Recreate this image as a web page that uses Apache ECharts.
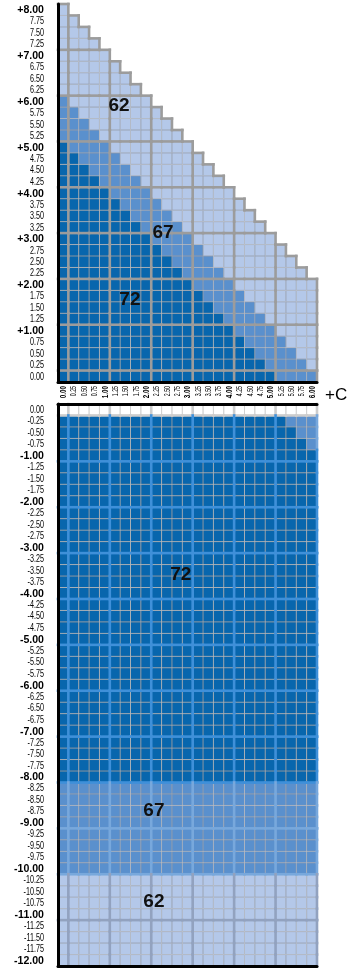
<!DOCTYPE html>
<html>
<head>
<meta charset="utf-8">
<script src="https://cdn.jsdelivr.net/npm/echarts@6/dist/echarts.min.js"></script>
<style>
  html, body { margin: 0; padding: 0; background: #fff; }
  #chart { width: 352px; height: 968px; }
</style>
</head>
<body>
<div id="chart"></div>
<script>
// Cylinder columns (+C), shared by both panels
const cylinderLabels = ['0.00','0.25','0.50','0.75','1.00','1.25','1.50','1.75','2.00','2.25','2.50','2.75',
  '3.00','3.25','3.50','3.75','4.00','4.25','4.50','4.75','5.00','5.25','5.50','5.75','6.00'];

// Plus sphere rows, bottom to top
const plusSphereLabels = ['0.00','0.25','0.50','0.75','+1.00','1.25','1.50','1.75','+2.00','2.25','2.50','2.75',
  '+3.00','3.25','3.50','3.75','+4.00','4.25','4.50','4.75','+5.00','5.25','5.50','5.75','+6.00','6.25','6.50',
  '6.75','+7.00','7.25','7.50','7.75','+8.00'];

// Minus sphere rows, top to bottom
const minusSphereLabels = ['0.00','-0.25','-0.50','-0.75','-1.00','-1.25','-1.50','-1.75','-2.00','-2.25','-2.50',
  '-2.75','-3.00','-3.25','-3.50','-3.75','-4.00','-4.25','-4.50','-4.75','-5.00','-5.25','-5.50','-5.75','-6.00',
  '-6.25','-6.50','-6.75','-7.00','-7.25','-7.50','-7.75','-8.00','-8.25','-8.50','-8.75','-9.00','-9.25','-9.50',
  '-9.75','-10.00','-10.25','-10.50','-10.75','-11.00','-11.25','-11.50','-11.75','-12.00'];

// Cells per plus row (0.00 .. +8.00), left to right: index 72, then 67, then 62
const plus72 = [21,20,19,18,17,16,15,14,13,12,11,10,9,8,7,6,5,4,3,2,1,0,0,0,0,0,0,0,0,0,0,0,0];
const plus67 = [4,4,4,4,4,4,4,4,4,4,4,4,4,4,4,4,4,4,4,4,4,4,3,2,1,0,0,0,0,0,0,0,0];
const plus62 = [0,1,2,3,4,5,6,7,8,8,8,8,8,8,8,8,8,8,8,8,8,8,8,8,8,8,7,6,5,4,3,2,1];

// Cells per minus row (0.00 .. -12.00), left to right: open cells, 72, 67, 62
const minusOpen = [25,0,0,0,0,0,0,0,0,0,0,0,0,0,0,0,0,0,0,0,0,0,0,0,0,0,0,0,0,0,0,0,0,
  0,0,0,0,0,0,0,0,0,0,0,0,0,0,0,0];
const minus72 = [0,22,23,24,25,25,25,25,25,25,25,25,25,25,25,25,25,25,25,25,25,25,25,25,25,25,25,25,25,25,25,25,25,
  0,0,0,0,0,0,0,0,0,0,0,0,0,0,0,0];
const minus67 = [0,3,2,1,0,0,0,0,0,0,0,0,0,0,0,0,0,0,0,0,0,0,0,0,0,0,0,0,0,0,0,0,0,
  25,25,25,25,25,25,25,25,0,0,0,0,0,0,0,0];
const minus62 = [0,0,0,0,0,0,0,0,0,0,0,0,0,0,0,0,0,0,0,0,0,0,0,0,0,0,0,0,0,0,0,0,0,
  0,0,0,0,0,0,0,0,25,25,25,25,25,25,25,25];

// Index names written inside each zone
const plusZoneTags = ['62', '67', '72'];
const minusZoneTags = ['72', '67', '62'];
const cylinderName = '+C';

// ---- layout and styling ----
const tagAnchorsPlus = [[1.35, 5.90], [2.41, 3.125], [1.61, 1.66]];   // [cyl, sph]
const tagAnchorsMinus = [[2.84, 3.59], [2.19, 8.75], [2.19, 10.72]];  // [cyl, |sph|]

const FILL = { 0: '#ffffff', 62: '#b4c8e9', 67: '#5a90cd', 72: '#0866ad' };
const THIN = { 0: '#c2c2c2', 62: '#9aa3b3', 67: '#8f9aab', 72: '#8a949e' };
const THICK_MINUS = { 0: '#cdcdcd', 62: '#92a2bf', 67: '#78a8dc', 72: '#3f90d9' };
const THICK_PLUS = '#9c9c9c';
const SANS = "'Liberation Sans', Arial, Helvetica, sans-serif";

function buildCells(zoneRows) {
  const cells = [];
  const rows = zoneRows[0][1].length;
  for (let r = 0; r < rows; r++) {
    let c = 0;
    for (const [zone, counts] of zoneRows) {
      for (let i = 0; i < counts[r]; i++) { cells.push([c, r, zone]); c++; }
    }
  }
  return cells;
}

const plusCells = buildCells([[72, plus72], [67, plus67], [62, plus62]]);
const minusCells = buildCells([[0, minusOpen], [72, minus72], [67, minus67], [62, minus62]]);

const lastCyl = cylinderLabels.length - 1;
const lastMinus = minusSphereLabels.length - 1;
const plusKeys = new Set(plusCells.map(d => d[0] + ',' + d[1]));

// heavy edges: [c, r, zone, edgeTowardNextRow, rightEdge]
const plusEdges = plusCells.map(([c, r, z]) => [c, r, z,
  (r % 4 === 0 || !plusKeys.has(c + ',' + (r + 1))) ? 1 : 0,
  (c % 4 === 0 || !plusKeys.has((c + 1) + ',' + r)) ? 1 : 0]);
const minusEdges = minusCells.map(([c, r, z]) => [c, r, z,
  (r % 4 === 0 && r < lastMinus) ? 1 : 0,
  (c % 4 === 0 || c === lastCyl) ? 1 : 0]);

function bandOf(api, c, r) {
  const p = api.coord([c, r]);
  const s = api.size([1, 1]);
  return { x: p[0], y: p[1], w: Math.abs(s[0]), h: Math.abs(s[1]) };
}

// each cell: grey frame with the coloured square inset, so neighbours share a 1px rule
function cellRenderer(params, api) {
  const z = api.value(2);
  const b = bandOf(api, api.value(0), api.value(1));
  return {
    type: 'group',
    children: [
      { type: 'rect', shape: { x: b.x - b.w / 2, y: b.y - b.h / 2, width: b.w, height: b.h },
        style: { fill: THIN[z] } },
      { type: 'rect', shape: { x: b.x - b.w / 2 + 0.5, y: b.y - b.h / 2 + 0.5, width: b.w - 1, height: b.h - 1 },
        style: { fill: FILL[z] } }
    ]
  };
}

// dir = -1 when the next row sits above (plus panel), +1 when below (minus panel)
function edgeRenderer(dir, colorOf) {
  return function (params, api) {
    const z = api.value(2);
    const b = bandOf(api, api.value(0), api.value(1));
    const color = colorOf(z);
    const kids = [];
    const yNext = b.y + dir * b.h / 2;
    const yPrev = b.y - dir * b.h / 2;
    if (api.value(3)) {
      kids.push({ type: 'line', shape: { x1: b.x - b.w / 2, y1: yNext, x2: b.x + b.w / 2, y2: yNext },
        style: { stroke: color, lineWidth: 2.6, lineCap: 'square' } });
    }
    if (api.value(4)) {
      kids.push({ type: 'line', shape: { x1: b.x + b.w / 2, y1: yPrev, x2: b.x + b.w / 2, y2: yNext },
        style: { stroke: color, lineWidth: 2.6, lineCap: 'square' } });
    }
    return { type: 'group', children: kids };
  };
}

function tagRenderer(dir, anchors, texts) {
  return function (params, api) {
    const a = anchors[params.dataIndex];
    const cx = a[0] * 4, cy = a[1] * 4;
    const ci = Math.floor(cx), ri = Math.floor(cy);
    const b = bandOf(api, ci, ri);
    return {
      type: 'text',
      x: b.x + (cx - ci) * b.w,
      y: b.y + dir * (cy - ri) * b.h,
      style: {
        text: texts[params.dataIndex], fill: '#111', align: 'center', verticalAlign: 'middle',
        font: 'bold 19px ' + SANS
      }
    };
  };
}

function tagData(anchors) {
  return anchors.map(a => [Math.floor(a[0] * 4), Math.floor(a[1] * 4)]);
}

// sphere tick labels, drawn narrow against the left axis
function sphereLabelRenderer(labels) {
  return function (params, api) {
    const text = labels[params.dataIndex];
    const major = /^[+-]\d+\.00$/.test(text);
    const b = bandOf(api, 0, api.value(1));
    return {
      type: 'text',
      x: b.x - b.w / 2 - 14,
      y: b.y + 0.5,
      scaleX: major ? 0.92 : 0.72,
      style: {
        text: text, fill: '#000', align: 'right', verticalAlign: 'middle',
        font: (major ? 'bold 11.5px ' : '10px ') + SANS
      }
    };
  };
}

// cylinder tick labels, turned to read upward from the panel gap
function cylinderLabelRenderer(params, api) {
  const text = cylinderLabels[params.dataIndex];
  const major = /\.00$/.test(text);
  const b = bandOf(api, api.value(0), 0);
  return {
    type: 'text',
    x: b.x + 0.5,
    y: b.y + b.h / 2 + 4,
    rotation: Math.PI / 2,
    scaleX: major ? 0.7 : 0.62,
    style: {
      text: text, fill: '#000', align: 'right', verticalAlign: 'middle',
      font: (major ? 'bold 9px ' : '8.5px ') + SANS
    }
  };
}

function cylinderNameRenderer(params, api) {
  const b = bandOf(api, api.value(0), 0);
  return {
    type: 'text',
    x: b.x + b.w / 2 + 8,
    y: b.y + b.h / 2 + 13,
    style: { text: cylinderName, fill: '#000', align: 'left', verticalAlign: 'middle', font: '17px ' + SANS }
  };
}

const blackLine = { show: true, onZero: false, lineStyle: { color: '#000', width: 3 } };
const quietAxis = { axisLine: blackLine, axisTick: { show: false }, axisLabel: { show: false }, splitLine: { show: false }, z: 5 };

const option = {
  animation: false,
  backgroundColor: '#fff',
  grid: [
    { left: 58, right: 35, top: 4, height: 378 },
    { left: 58, right: 35, top: 404, bottom: 2 }
  ],
  xAxis: [
    Object.assign({ gridIndex: 0, type: 'category', data: cylinderLabels, position: 'bottom' }, quietAxis),
    Object.assign({ gridIndex: 1, type: 'category', data: cylinderLabels, position: 'top' }, quietAxis),
    Object.assign({ gridIndex: 1, type: 'category', data: cylinderLabels, position: 'bottom' }, quietAxis)
  ],
  yAxis: [
    Object.assign({ gridIndex: 0, type: 'category', data: plusSphereLabels }, quietAxis),
    Object.assign({ gridIndex: 1, type: 'category', data: minusSphereLabels, inverse: true }, quietAxis)
  ],
  series: [
    { type: 'custom', xAxisIndex: 0, yAxisIndex: 0, data: plusCells, renderItem: cellRenderer, z: 2 },
    { type: 'custom', xAxisIndex: 1, yAxisIndex: 1, data: minusCells, renderItem: cellRenderer, z: 2 },
    { type: 'custom', xAxisIndex: 0, yAxisIndex: 0, data: plusEdges, renderItem: edgeRenderer(-1, () => THICK_PLUS), z: 3 },
    { type: 'custom', xAxisIndex: 1, yAxisIndex: 1, data: minusEdges, renderItem: edgeRenderer(1, z => THICK_MINUS[z]), z: 3 },
    { type: 'custom', xAxisIndex: 0, yAxisIndex: 0, data: tagData(tagAnchorsPlus),
      renderItem: tagRenderer(-1, tagAnchorsPlus, plusZoneTags), z: 4 },
    { type: 'custom', xAxisIndex: 1, yAxisIndex: 1, data: tagData(tagAnchorsMinus),
      renderItem: tagRenderer(1, tagAnchorsMinus, minusZoneTags), z: 4 },
    { type: 'custom', xAxisIndex: 0, yAxisIndex: 0, data: plusSphereLabels.map((_, r) => [0, r]),
      renderItem: sphereLabelRenderer(plusSphereLabels), z: 4 },
    { type: 'custom', xAxisIndex: 1, yAxisIndex: 1, data: minusSphereLabels.map((_, r) => [0, r]),
      renderItem: sphereLabelRenderer(minusSphereLabels), z: 4 },
    { type: 'custom', xAxisIndex: 0, yAxisIndex: 0, data: cylinderLabels.map((_, c) => [c, 0]),
      renderItem: cylinderLabelRenderer, z: 4 },
    { type: 'custom', xAxisIndex: 0, yAxisIndex: 0, data: [[lastCyl, 0]],
      renderItem: cylinderNameRenderer, z: 4 }
  ]
};

const chart = echarts.init(document.getElementById('chart'), null, { renderer: 'canvas' });
chart.setOption(option);
</script>
</body>
</html>
